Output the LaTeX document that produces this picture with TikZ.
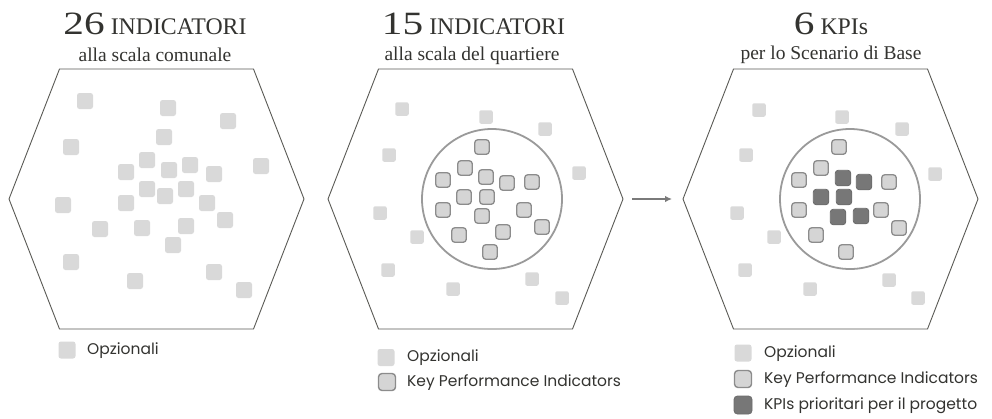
\documentclass[tikz,border=0pt]{standalone}
\usepackage{fontspec}
\usepackage{graphicx}
\usetikzlibrary{arrows.meta}
\setmainfont{Liberation Serif}
\newfontfamily\legfont{Poppins}
\definecolor{optc}{HTML}{D9D9D9}
\definecolor{kpic}{HTML}{D5D5D5}
\definecolor{kpib}{HTML}{8C8C8C}
\definecolor{pric}{HTML}{777777}
\definecolor{prib}{HTML}{6C6C6C}
\definecolor{arrc}{HTML}{7A7A7A}
\definecolor{hexc}{HTML}{5A5A55}
\definecolor{circc}{HTML}{9A9A9A}
\definecolor{txtc}{HTML}{333330}
\newcommand{\bignum}[1]{\scalebox{1.27}[1]{\fontsize{32.5}{32}\selectfont #1}}
\newcommand{\capword}[1]{\fontsize{23.8}{24}\selectfont #1}
\begin{document}
\begin{tikzpicture}[x=1pt,y=-1pt,
  optbig/.style={fill=optc,draw=none,inner sep=0,minimum size=16,rounded corners=2.5},
  optsm/.style={fill=optc,draw=none,inner sep=0,minimum size=13.5,rounded corners=2},
  kpibox/.style={fill=kpic,draw=kpib,line width=1.3,inner sep=0,minimum size=14.5,rounded corners=3},
  pribox/.style={fill=pric,draw=prib,line width=0.8,inner sep=0,minimum size=15.5,rounded corners=3},
  legopt/.style={fill=optc,draw=none,inner sep=0,minimum size=17,rounded corners=2.5},
  legkpi/.style={fill=kpic,draw=kpib,line width=1.4,inner sep=0,minimum size=17,rounded corners=3.5},
  legpri/.style={fill=pric,draw=prib,line width=0.8,inner sep=0,minimum size=18,rounded corners=3.5},
  hexline/.style={draw=hexc,line width=0.9},
  ring/.style={circle,draw=circc,line width=1.8,inner sep=0,minimum size=140},
  arrowline/.style={draw=arrc,line width=1.5,-{Latex[length=7pt,width=6.5pt]}},
  legtext/.style={anchor=west,inner sep=0,text=txtc,font=\legfont\fontsize{15.5}{16}\selectfont},
  titletext/.style={anchor=base,inner sep=0,text=txtc},
  subtext/.style={anchor=base,inner sep=0,text=txtc,font=\fontsize{19.5}{20}\selectfont}
]
\useasboundingbox[fill=white] (0,0) rectangle (992,418);

% hexagons
\foreach \cx in {156.5,475.5,830.5}{
  \draw[hexline] ({\cx-147.5},199) -- ({\cx-97},69) -- ({\cx+97},69) -- ({\cx+147.5},199) -- ({\cx+97},329) -- ({\cx-97},329) -- cycle;
}

% titles
\node[titletext] (t1) at (155,34) {\bignum{26}\hspace{6pt}\capword{INDICATORI}};
\node[subtext] (s1) at (155,61) {alla scala comunale};
\node[titletext] (t2) at (473.5,34) {\bignum{15}\hspace{6pt}\capword{INDICATORI}};
\node[subtext] (s2) at (472,60) {alla scala del quartiere};
\node[titletext] (t3) at (831,34) {\bignum{6}\hspace{6pt}\capword{KPIs}};
\node[subtext] (s3) at (831,59) {per lo Scenario di Base};

% panel 1 squares
\foreach \x/\y [count=\i] in {85/101,168/108,228/121,164/137,71/147,147/160,126/172,169/170,190/165,214/174,261/166,147/189,165/196,186/189,126/203,207/203,63/205,225/220,100/229,142/228,186/226,173/245,71/262,214/272,135/281,244/290}
  \node[optbig] (pa\i) at (\x,\y) {};

% panel 2
\node[ring] (c2) at (492,199) {};
\foreach \x/\y [count=\i] in {402/109,486/117,545/129,389/155,579/173,380/213,417/237,388/270,453/289,532/279,562/298}
  \node[optsm] (pb\i) at (\x,\y) {};
\foreach \x/\y [count=\i] in {482/147,465/168,443/180,486/177,507/183,532/182,464/197,487/197,443/210,482/216,524/210,542/227,459/235,503/232,490/252}
  \node[kpibox] (kb\i) at (\x,\y) {};

% panel 3
\node[ring] (c3) at (850,199) {};
\foreach \x/\y [count=\i] in {759/110,842/117,902/129,746/155,935/174,737/213,774/237,745/270,810/289,889/280,918/298}
  \node[optsm] (pc\i) at (\x,\y) {};
\foreach \x/\y [count=\i] in {839/147,821/168,799/180,889/182,799/210,881/210,899/228,816/235,846/252}
  \node[kpibox] (kc\i) at (\x,\y) {};
\foreach \x/\y [count=\i] in {843/178,864/182,821/197,844/197,838/217,861/216}
  \node[pribox] (rc\i) at (\x,\y) {};

% arrow
\coordinate (ar1) at (632,199);
\coordinate (ar2) at (672,199);
\draw[arrowline] (ar1) -- (ar2);

% legends
\node[legopt] (l1a) at (67,350) {};
\node[legtext] (l1at) at (87,351) {Opzionali};

\node[legopt] (l2a) at (386,357.5) {};
\node[legtext] (l2at) at (407,358) {Opzionali};
\node[legkpi] (l2b) at (387,382) {};
\node[legtext] (l2bt) at (407,383) {Key Performance Indicators};

\node[legopt] (l3a) at (743,353) {};
\node[legtext] (l3at) at (764,354) {Opzionali};
\node[legkpi] (l3b) at (743,379) {};
\node[legtext] (l3bt) at (764,380) {Key Performance Indicators};
\node[legpri] (l3c) at (743,405) {};
\node[legtext] (l3ct) at (764,406) {KPIs prioritari per il progetto};
\end{tikzpicture}
\end{document}
